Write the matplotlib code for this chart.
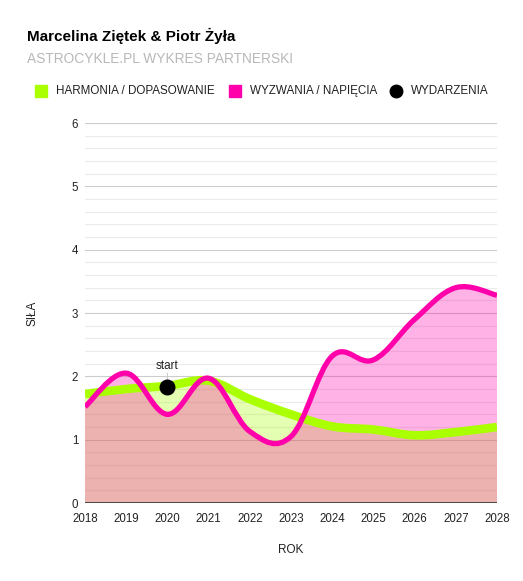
import numpy as np
import matplotlib.pyplot as plt
from matplotlib.path import Path
from matplotlib.patches import PathPatch

plt.rcParams['font.family'] = ['Liberation Sans', 'DejaVu Sans']

# data
years = [2018, 2019, 2020, 2021, 2022, 2023, 2024, 2025, 2026, 2027, 2028]
harmonia = [1.72, 1.80, 1.85, 1.93, 1.64, 1.40, 1.21, 1.16, 1.07, 1.12, 1.20]
wyzwania = [1.52, 2.05, 1.40, 1.97, 1.13, 1.05, 2.32, 2.26, 2.90, 3.40, 3.28]
event_years = [2020]
event_vals = [1.83]
event_labels = ["start"]

GREEN = '#aaff00'
PINK = '#ff00aa'


def smooth_path(xs, ys, closed_base=None):
    # cubic bezier through points (catmull-rom style control points)
    xs = np.asarray(xs, float)
    ys = np.asarray(ys, float)
    pts = np.column_stack([xs, ys])
    n = len(pts)
    verts = [tuple(pts[0])]
    codes = [Path.MOVETO]
    k = 0.18
    for i in range(n - 1):
        p0 = pts[max(i - 1, 0)]
        p1 = pts[i]
        p2 = pts[i + 1]
        p3 = pts[min(i + 2, n - 1)]
        c1 = p1 + (p2 - p0) * k
        c2 = p2 - (p3 - p1) * k
        verts += [tuple(c1), tuple(c2), tuple(p2)]
        codes += [Path.CURVE4] * 3
    if closed_base is not None:
        verts += [(xs[-1], closed_base), (xs[0], closed_base), tuple(pts[0])]
        codes += [Path.LINETO, Path.LINETO, Path.CLOSEPOLY]
    return Path(verts, codes)


fig = plt.figure(figsize=(5.23, 5.81), dpi=100)
ax = fig.add_axes([85 / 523, 1 - 503 / 581, 412 / 523, 380 / 581])

ax.set_xlim(2018, 2028)
ax.set_ylim(0, 6)

# grid
for v in np.arange(0, 6.01, 0.2):
    if abs(v - round(v)) < 1e-6:
        continue
    ax.axhline(v, color='#ebebeb', lw=0.8, zorder=0)
for v in range(1, 7):
    ax.axhline(v, color='#cccccc', lw=0.8, zorder=0)
ax.axhline(0, color='#333333', lw=1.2, zorder=6)

# areas
ax.add_patch(PathPatch(smooth_path(years, harmonia, 0), facecolor=GREEN,
                       alpha=0.3, edgecolor='none', zorder=1))
ax.add_patch(PathPatch(smooth_path(years, wyzwania, 0), facecolor=PINK,
                       alpha=0.3, edgecolor='none', zorder=2))
# lines
ax.add_patch(PathPatch(smooth_path(years, harmonia), facecolor='none',
                       edgecolor=GREEN, lw=6.2, zorder=3, capstyle='butt'))
ax.add_patch(PathPatch(smooth_path(years, wyzwania), facecolor='none',
                       edgecolor=PINK, lw=3.8, zorder=4, capstyle='butt'))

# events
ax.scatter(event_years, event_vals, s=110, color='black', zorder=7)
for x, y, t in zip(event_years, event_vals, event_labels):
    ax.plot([x, x], [y + 0.1, y + 0.22], color='#cccccc', lw=0.8, zorder=5)
    ax.text(x, y + 0.24, t, ha='center', va='bottom', fontsize=8.5, color='#222222')

for s in ax.spines.values():
    s.set_visible(False)
ax.set_xticks(years)
ax.set_xticklabels([str(y) for y in years], fontsize=8.3, color='#222222')
ax.set_yticks(range(0, 7))
ax.set_yticklabels([str(v) for v in range(0, 7)], fontsize=8.3, color='#222222')
ax.tick_params(axis='y', length=0, pad=5)
ax.tick_params(axis='x', length=0, pad=7)
ax.set_xlabel('ROK', fontsize=8.5, color='#222222', labelpad=14)
ax.set_ylabel('SIŁA', fontsize=8.5, color='#222222', labelpad=24)

# titles
fig.text(27 / 523, 1 - 36 / 581, 'Marcelina Ziętek & Piotr Żyła', fontsize=11,
         fontweight='bold', color='#000000', va='center')
fig.text(27 / 523, 1 - 59 / 581, 'ASTROCYKLE.PL WYKRES PARTNERSKI', fontsize=9.9,
         color='#b8b8b8', va='center')

# legend
ly = 1 - 91 / 581
items = [(35, GREEN, 's', 'HARMONIA / DOPASOWANIE'),
         (229, PINK, 's', 'WYZWANIA / NAPIĘCIA'),
         (390, 'black', 'o', 'WYDARZENIA')]
for x0, c, m, t in items:
    fig.lines.append(plt.Line2D([(x0 + 6) / 523], [ly], marker=m, markersize=9,
                                color=c, linestyle='none',
                                transform=fig.transFigure))
    fig.text((x0 + 21) / 523, ly, t, fontsize=8.4, color='#222222', va='center')

fig.savefig('out.png', dpi=100)
